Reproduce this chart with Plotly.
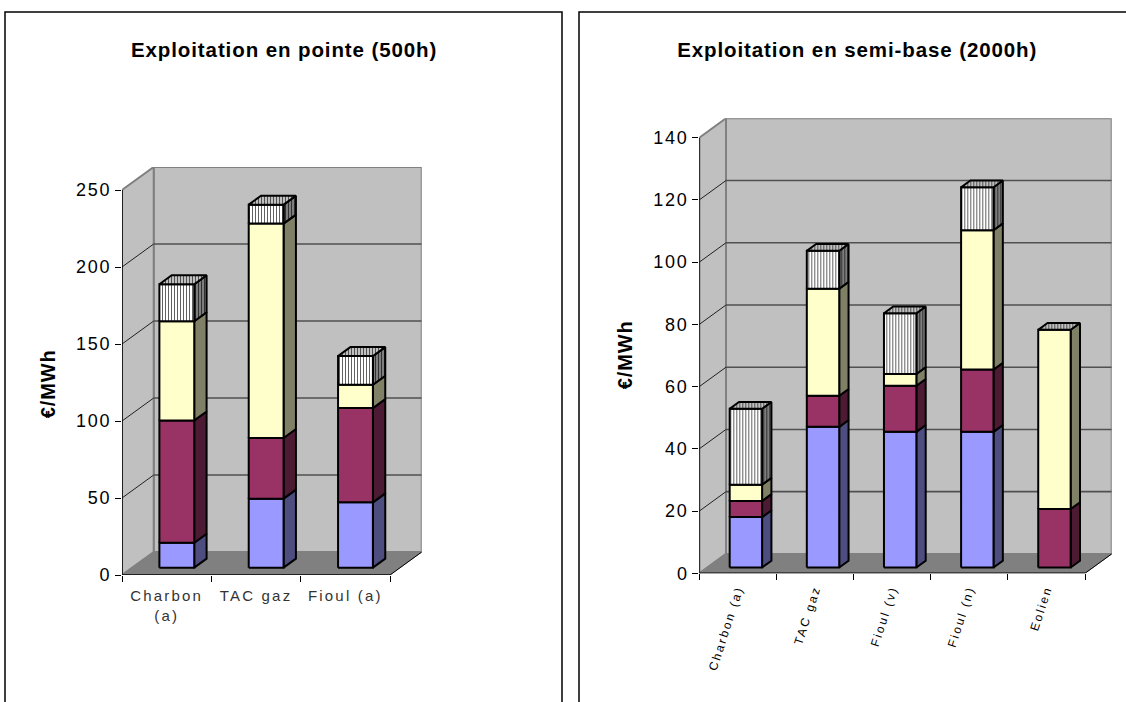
import plotly.graph_objects as go

# ---- data ----
left_title = "Exploitation en pointe (500h)"
right_title = "Exploitation en semi-base (2000h)"
y_label = "€/MWh"

left_categories = ["Charbon<br>(a)", "TAC gaz", "Fioul (a)"]
left_blue = [16.2, 44.8, 42.4]
left_purple = [79.4, 39.4, 61.2]
left_yellow = [64.4, 139.2, 15.2]
left_hatched = [24.0, 12.3, 18.6]
left_ticks = [0, 50, 100, 150, 200, 250]

right_categories = ["Charbon (a)", "TAC gaz", "Fioul (v)", "Fioul (n)", "Eolien"]
right_blue = [16.2, 45.2, 43.6, 43.6, 0]
right_purple = [5.2, 10.0, 14.8, 20.0, 18.8]
right_yellow = [5.2, 34.4, 3.8, 44.8, 57.6]
right_hatched = [24.4, 12.2, 19.5, 13.8, 0]
right_ticks = [0, 20, 40, 60, 80, 100, 120, 140]

W, H = 1126, 702

# colours
FRONT = ["#9999FF", "#993366", "#FFFFCC", "#FFFFFF"]
SIDE = ["#4D4D80", "#4D1A33", "#808066", "#808080"]
WALL = "#C0C0C0"
FLOOR = "#808080"
EDGE = "#808080"

fig = go.Figure()


def poly(xs, ys, fill, line, lw, xa, ya, pattern=None):
    kw = dict(fillpattern=pattern) if pattern else {}
    fig.add_trace(go.Scatter(
        x=xs, y=ys, mode="lines", fill="toself", fillcolor=fill,
        line=dict(color=line, width=lw), xaxis=xa, yaxis=ya,
        hoverinfo="skip", showlegend=False, **kw))


def seg(xs, ys, color, lw, xa, ya):
    fig.add_trace(go.Scatter(
        x=xs, y=ys, mode="lines", line=dict(color=color, width=lw),
        xaxis=xa, yaxis=ya, hoverinfo="skip", showlegend=False))


def panel(xa, ya, series, ticks, depth_x, depth_y, bar_w, off, thick):
    n = len(series[0])
    top = ticks[-1]
    # walls and floor
    poly([depth_x, n + depth_x, n + depth_x, depth_x, depth_x],
         [depth_y, depth_y, top + depth_y, top + depth_y, depth_y], WALL, EDGE, 2, xa, ya)
    poly([0, depth_x, depth_x, 0, 0],
         [0, depth_y, top + depth_y, top, 0], WALL, EDGE, 2, xa, ya)
    poly([0, n, n + depth_x, depth_x, 0],
         [0, 0, depth_y, depth_y, 0], FLOOR, FLOOR, 1, xa, ya)
    # gridlines
    for t in ticks[1:-1]:
        seg([depth_x, n + depth_x], [t + depth_y, t + depth_y], "#505050", 1.6, xa, ya)
        seg([0, depth_x], [t, t + depth_y], "#202020", 1, xa, ya)
    seg([n, n + depth_x], [0, depth_y], "#000000", 1, xa, ya)
    # bars
    ox, oy = off * depth_x, off * depth_y
    bx, by = thick * depth_x, thick * depth_y
    pf = dict(shape="|", size=3, solidity=0.3, fgcolor="#505050", bgcolor="#FFFFFF", fillmode="replace")
    ps = dict(shape="|", size=3, solidity=0.5, fgcolor="#303030", bgcolor="#989898", fillmode="replace")
    pt = dict(shape="|", size=3, solidity=0.35, fgcolor="#505050", bgcolor="#C0C0C0", fillmode="replace")
    for i in range(n):
        x0 = i + (1 - bar_w) / 2 + ox
        x1 = x0 + bar_w
        base = oy
        for k, s in enumerate(series):
            v = s[i]
            if v <= 0:
                continue
            y0, y1 = base, base + v
            hatched = k == 3
            poly([x1, x1 + bx, x1 + bx, x1, x1], [y0, y0 + by, y1 + by, y1, y0],
                 SIDE[k], "#000000", 2, xa, ya, ps if hatched else None)
            poly([x0, x1, x1, x0, x0], [y0, y0, y1, y1, y0],
                 FRONT[k], "#000000", 2, xa, ya, pf if hatched else None)
            base = y1
        poly([x0, x1, x1 + bx, x0 + bx, x0], [base, base, base + by, base + by, base],
             "#C0C0C0", "#000000", 2, xa, ya, pt)
    # front axis lines
    seg([0, 0], [0, top], "#000000", 1.5, xa, ya)
    seg([0, n], [0, 0], "#000000", 1.5, xa, ya)


def dom(a, b, size):
    return [a / size, b / size]


def axes(px_x0, px_xfront, px_xback, px_y0, px_ymax, px_yback, cats, ticks, tickangle, tickfont, gap):
    n = len(cats)
    slot = (px_xfront - px_x0) / n
    depth_x = (px_xback - px_xfront) / slot
    unit = (px_y0 - px_ymax) / ticks[-1]
    depth_y = (px_ymax - px_yback) / unit
    xaxis = dict(
        domain=dom(px_x0, px_xback, W),
        range=[0, n + depth_x], automargin=False,
        showgrid=False, zeroline=False, showline=False,
        tickmode="array", tickvals=[i + 0.5 for i in range(n)], ticktext=cats,
        ticks="outside", ticklen=gap, tickcolor="rgba(0,0,0,0)", tickangle=tickangle, tickfont=tickfont,
        minor=dict(tickmode="array", tickvals=list(range(n + 1)), ticks="outside",
                   ticklen=6, tickwidth=1, tickcolor="#000000"),
    )
    yaxis = dict(
        domain=dom(H - px_y0, H - px_yback, H),
        range=[0, ticks[-1] + depth_y], automargin=False,
        showgrid=False, zeroline=False, showline=False,
        tickmode="array", tickvals=ticks, ticks="outside", ticklen=6, tickwidth=1, tickcolor="#000000",
        tickfont=dict(family="Liberation Sans", size=18, color="#000000"),
    )
    return xaxis, yaxis, depth_x, depth_y


lx, ly, ldx, ldy = axes(122, 390, 421.7, 575, 190, 167, left_categories, left_ticks, 0,
                        dict(family="Liberation Sans", size=15, color="#333333"), 7)
rx, ry, rdx, rdy = axes(699.3, 1085, 1111.7, 573.3, 137.7, 118.3, right_categories, right_ticks, -72,
                        dict(family="Liberation Sans", size=12, color="#000000"), 3)
rx["anchor"] = "y2"
ry["anchor"] = "x2"

panel("x", "y", [left_blue, left_purple, left_yellow, left_hatched], left_ticks, ldx, ldy, 0.39, 0.32, 0.39)
panel("x2", "y2", [right_blue, right_purple, right_yellow, right_hatched], right_ticks, rdx, rdy, 0.42, 0.30, 0.35)

frame = dict(color="#000000", width=1.5)
shapes = []
for a, b in ((5, 562), (579, 1127)):
    shapes.append(dict(type="path", xref="paper", yref="paper",
                       path=f"M {a/W} 0 L {a/W} {1-12/H} L {b/W} {1-12/H} L {b/W} 0",
                       line=frame))

annots = [
    dict(text="<b>%s</b>" % t, x=cx / W, y=1 - 49.5 / H, xref="paper", yref="paper", showarrow=False,
         xanchor="center", yanchor="middle", font=dict(family="Liberation Sans", size=20.5, color="#000000"))
    for t, cx in ((left_title, 283.5), (right_title, 857))
] + [
    dict(text="<b>%s</b>" % y_label, x=cx / W, y=1 - cy / H, xref="paper", yref="paper", showarrow=False,
         textangle=-90, xanchor="center", yanchor="middle",
         font=dict(family="Liberation Sans", size=20, color="#000000"))
    for cx, cy in ((48, 384), (625, 355))
]

fig.update_layout(
    width=W, height=H, margin=dict(l=0, r=0, t=0, b=0, pad=0), autosize=False,
    paper_bgcolor="#FFFFFF", plot_bgcolor="rgba(0,0,0,0)", showlegend=False,
    xaxis=lx, yaxis=ly, xaxis2=rx, yaxis2=ry, shapes=shapes, annotations=annots,
    hovermode=False,
)
css = """
document.body.style.margin = '0';
var st = document.createElement('style');
st.textContent = '.annotation-text{letter-spacing:0.9px} .xtick text,.x2tick text{letter-spacing:2.2px} .ytick text,.y2tick text{letter-spacing:1.8px}';
document.head.appendChild(st);
"""
fig.write_html("out.html", config=dict(displayModeBar=False), post_script=css)
